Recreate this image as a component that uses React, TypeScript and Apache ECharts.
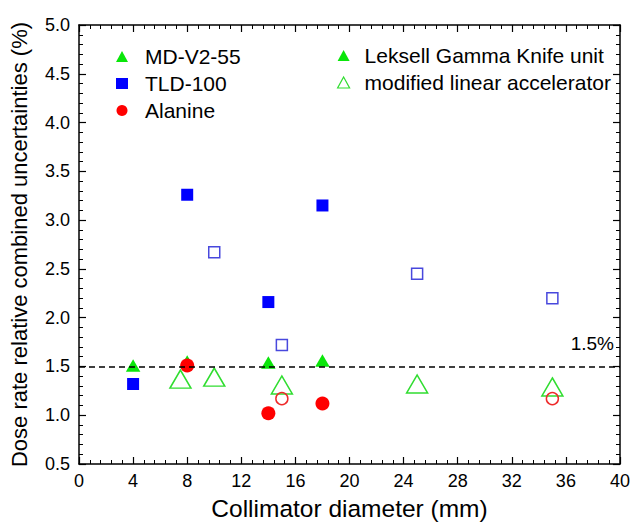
import React, { useEffect, useRef } from "react";
import * as echarts from "echarts";

// Collimator diameter (mm) / uncertainty (%)
const mdGamma: [number, number][] = [[4, 1.51], [8, 1.55], [14, 1.54], [18, 1.56]];
const tldGamma: [number, number][] = [[4, 1.32], [8, 3.26], [14, 2.16], [18, 3.15]];
const alaGamma: [number, number][] = [[8, 1.51], [14, 1.02], [18, 1.12]];
const mdLinac: [number, number][] = [[7.5, 1.37], [10, 1.39], [15, 1.31], [25, 1.32], [35, 1.29]];
const tldLinac: [number, number][] = [[10, 2.67], [15, 1.72], [25, 2.45], [35, 2.2]];
const alaLinac: [number, number][] = [[15, 1.17], [35, 1.17]];
const threshold = 1.5;

const FONT = "Liberation Sans, Arial, sans-serif";
const GREEN = "#0ae60a";
const GREEN_O = "#30dd30";
const BLUE = "#0000ff";
const BLUE_O = "#4848dd";
const RED = "#ff0000";
const RED_O = "#ee2a2a";

export default function App() {
  const ref = useRef<HTMLDivElement>(null);
  useEffect(() => {
    document.body.style.margin = "0";
    if (!ref.current) return;
    const chart = echarts.init(ref.current, null, { renderer: "svg" });
    const axisCommon = {
      axisLine: { show: true, onZero: false, lineStyle: { color: "#000", width: 1.5 } },
      axisTick: { show: true, inside: true, length: 7, lineStyle: { color: "#000", width: 1.2 } },
      minorTick: { show: true, splitNumber: 5, length: 4, lineStyle: { color: "#000", width: 1 } },
      splitLine: { show: false },
    };
    const hollow = { color: "rgba(255,255,255,0)", opacity: 1 };
    chart.setOption({
      animation: false,
      backgroundColor: "#fff",
      textStyle: { fontFamily: FONT },
      grid: { left: 78, right: 12, top: 25, bottom: 64 },
      xAxis: [
        {
          type: "value", min: 0, max: 40, interval: 4, position: "bottom",
          ...axisCommon,
          axisLabel: { fontSize: 18, color: "#000", margin: 8, fontFamily: FONT },
          name: "Collimator diameter (mm)", nameLocation: "middle", nameGap: 32,
          nameTextStyle: { fontSize: 24.5, color: "#000", fontFamily: FONT },
        },
        {
          type: "value", min: 0, max: 40, interval: 4, position: "top",
          ...axisCommon, axisLabel: { show: false },
        },
      ],
      yAxis: [
        {
          type: "value", min: 0.5, max: 5, interval: 0.5, position: "left",
          ...axisCommon,
          axisLabel: { fontSize: 18, color: "#000", margin: 9, fontFamily: FONT, formatter: (v: number) => v.toFixed(1) },
          name: "Dose rate relative combined uncertainties (%)", nameLocation: "middle", nameGap: 49,
          nameTextStyle: { fontSize: 22, color: "#000", fontFamily: FONT },
        },
        {
          type: "value", min: 0.5, max: 5, interval: 0.5, position: "right",
          ...axisCommon, axisLabel: { show: false },
        },
      ],
      legend: [
        {
          orient: "vertical", left: 111, top: 41, itemGap: 6, itemWidth: 12, itemHeight: 11,
          textStyle: { fontSize: 21, color: "#000", fontFamily: FONT, padding: [0, 0, 0, 12] },
          selectedMode: false,
          data: [
            { name: "MD-V2-55", icon: "triangle", itemStyle: { color: GREEN, opacity: 1 } },
            { name: "TLD-100", icon: "rect", itemStyle: { color: BLUE, opacity: 1 } },
            { name: "Alanine", icon: "circle", itemStyle: { color: RED, opacity: 1 } },
          ],
        },
        {
          orient: "vertical", left: 332, top: 40, itemGap: 6, itemWidth: 12, itemHeight: 11,
          textStyle: { fontSize: 21, color: "#000", fontFamily: FONT, padding: [0, 0, 0, 10] },
          selectedMode: false,
          data: [
            { name: "Leksell Gamma Knife unit", icon: "triangle", itemStyle: { color: GREEN, opacity: 1 } },
            { name: "modified linear accelerator", icon: "triangle", itemStyle: { color: "rgba(255,255,255,0)", borderColor: GREEN_O, borderWidth: 1.2, opacity: 1 } },
          ],
        },
      ],
      series: [
        {
          name: "modified linear accelerator", type: "scatter", symbol: "triangle", symbolSize: [21, 18],
          itemStyle: { ...hollow, borderColor: GREEN_O, borderWidth: 1.5 }, data: mdLinac, z: 2,
        },
        {
          name: "TLD-100 (linac)", type: "scatter", symbol: "rect", symbolSize: 11,
          itemStyle: { ...hollow, borderColor: BLUE_O, borderWidth: 1.5 }, data: tldLinac, z: 2,
        },
        {
          name: "Alanine (linac)", type: "scatter", symbol: "circle", symbolSize: 12,
          itemStyle: { ...hollow, borderColor: RED_O, borderWidth: 1.5 }, data: alaLinac, z: 3,
        },
        {
          name: "MD-V2-55", type: "scatter", symbol: "triangle", symbolSize: [14.5, 12.5],
          itemStyle: { color: GREEN, opacity: 1 }, data: mdGamma, z: 3,
        },
        {
          name: "TLD-100", type: "scatter", symbol: "rect", symbolSize: 12,
          itemStyle: { color: BLUE, opacity: 1 }, data: tldGamma, z: 3,
        },
        {
          name: "Alanine", type: "scatter", symbol: "circle", symbolSize: 14,
          itemStyle: { color: RED, opacity: 1 }, data: alaGamma, z: 4,
        },
        {
          name: "Leksell Gamma Knife unit", type: "scatter", symbol: "triangle", symbolSize: 12,
          itemStyle: { color: GREEN, opacity: 1 }, data: [],
        },
        {
          name: "reference", type: "scatter", data: [], z: 10,
          markLine: {
            silent: true, symbol: "none", z: 10,
            lineStyle: { color: "#000", width: 1.5, type: [6, 4] },
            label: { show: true, position: "insideEndTop", formatter: "1.5%", fontSize: 19, color: "#000", fontFamily: FONT, distance: [6, 13] },
            data: [{ yAxis: threshold }],
          },
        },
      ],
    });
    return () => chart.dispose();
  }, []);
  return <div ref={ref} style={{ width: 633, height: 528 }} />;
}
